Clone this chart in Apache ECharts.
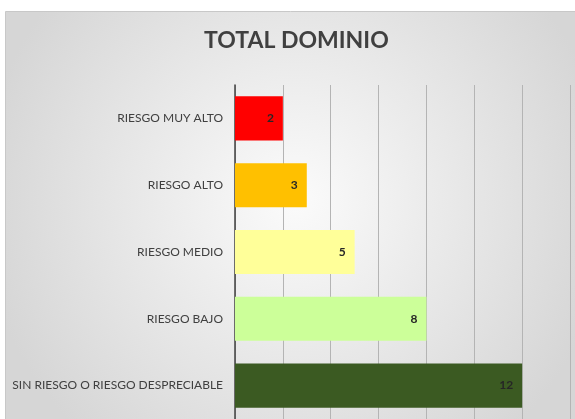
<!DOCTYPE html>
<html>
<head>
<meta charset="utf-8">
<script src="https://cdn.jsdelivr.net/npm/echarts@6/dist/echarts.min.js"></script>
<style>
html,body{margin:0;padding:0;background:#fff;}
#chart{width:575px;height:419px;}
</style>
</head>
<body>
<div id="chart"></div>
<script>
const categories = ['RIESGO MUY ALTO', 'RIESGO ALTO', 'RIESGO MEDIO', 'RIESGO BAJO', 'SIN RIESGO O RIESGO DESPRECIABLE'];
const values = [2, 3, 5, 8, 12];
const barColors = ['#FF0000', '#FFC000', '#FFFF99', '#CCFF99', '#3B5A22'];
const titleText = 'TOTAL DOMINIO';

const chart = echarts.init(document.getElementById('chart'), null, {renderer: 'canvas'});
chart.setOption({
  animation: false,
  backgroundColor: '#ffffff',
  graphic: [{
    type: 'rect',
    z: -10,
    shape: {x: 5.5, y: 11.5, width: 580, height: 420},
    style: {
      fill: {
        type: 'radial', x: 0.5, y: 0.45, r: 0.75,
        colorStops: [{offset: 0, color: '#fbfbfb'}, {offset: 1, color: '#d6d6d6'}]
      },
      stroke: '#c8c8c8', lineWidth: 1
    }
  }, {
    type: 'text',
    left: 204,
    top: 29,
    style: {
      text: titleText,
      fontFamily: 'Lato', fontWeight: 'bold', fontSize: 23, fill: '#404040'
    }
  }],
  grid: {left: 235, right: 5, top: 85, height: 335, containLabel: false},
  xAxis: {
    type: 'value', min: 0, max: 14, interval: 2,
    axisLabel: {show: false},
    axisLine: {show: false},
    axisTick: {show: false},
    splitLine: {show: true, lineStyle: {color: '#b4b4b4', width: 1}}
  },
  yAxis: {
    type: 'category',
    data: categories,
    inverse: true,
    axisLine: {show: true, lineStyle: {color: '#404040', width: 1.5}},
    axisTick: {show: false},
    axisLabel: {fontFamily: 'Lato', fontSize: 12, color: '#404040', margin: 12}
  },
  series: [{
    type: 'bar',
    data: values.map((v, i) => ({value: v, itemStyle: {color: barColors[i]}})),
    barCategoryGap: '34%',
    label: {
      show: true, position: 'insideRight', distance: 9,
      fontFamily: 'Lato', fontWeight: 'bold', fontSize: 12, color: '#262626'
    }
  }]
});
</script>
</body>
</html>
